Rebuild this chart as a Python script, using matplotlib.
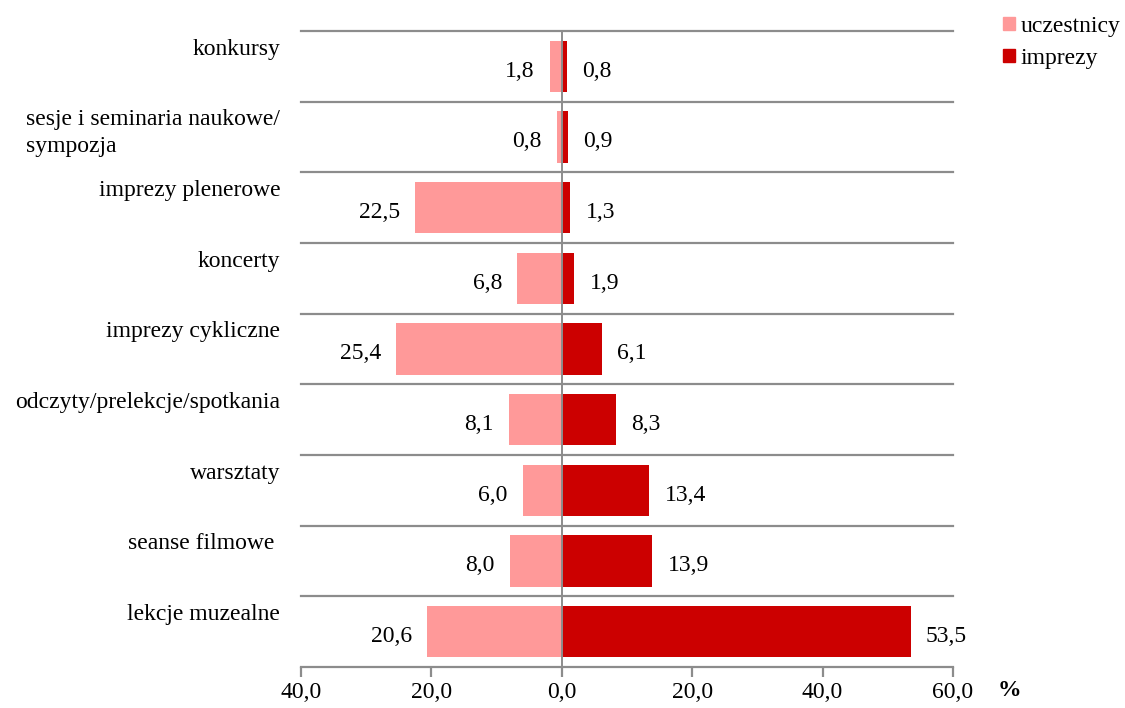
import matplotlib
matplotlib.use("Agg")
import matplotlib.pyplot as plt
from matplotlib.patches import Patch
from matplotlib import transforms

categories = ["konkursy", "sesje i seminaria naukowe/\nsympozja", "imprezy plenerowe",
              "koncerty", "imprezy cykliczne", "odczyty/prelekcje/spotkania",
              "warsztaty", "seanse filmowe ", "lekcje muzealne"]
uczestnicy = [1.8, 0.8, 22.5, 6.8, 25.4, 8.1, 6.0, 8.0, 20.6]
imprezy = [0.8, 0.9, 1.3, 1.9, 6.1, 8.3, 13.4, 13.9, 53.5]
xticks = [-40, -20, 0, 20, 40, 60]

plt.rcParams['font.family'] = ['Liberation Serif', 'DejaVu Serif']
FS = 17
PINK = "#FF9999"
RED = "#CC0000"
GRID = "#8C8C8C"

W, H = 1125, 708
fig = plt.figure(figsize=(W / 100, H / 100), dpi=100)
ax = fig.add_axes([301 / W, 1 - 667 / H, (953 - 301) / W, (667 - 31) / H])

n = len(categories)
ys = list(range(n))
bh = 0.73
ax.barh(ys, [-v for v in uczestnicy], height=bh, color=PINK, zorder=2)
ax.barh(ys, imprezy, height=bh, color=RED, zorder=2)

ax.set_xlim(-40, 60)
ax.set_ylim(n - 0.5, -0.5)

for b in range(n + 1):
    ax.axhline(b - 0.5, color=GRID, lw=1.6, zorder=1, clip_on=False)
ax.axvline(0, color=GRID, lw=1.4, zorder=3)

for s in ax.spines.values():
    s.set_visible(False)

ax.set_xticks(xticks)
ax.set_xticklabels([f"{abs(t):.1f}".replace(".", ",") for t in xticks], fontsize=FS)
ax.tick_params(axis='x', direction='out', length=7, width=1.6, color=GRID, pad=4)
ax.set_yticks([])

for y, u, im in zip(ys, uczestnicy, imprezy):
    ax.annotate(f"{u:.1f}".replace(".", ","), xy=(-u, y), xytext=(-11, -3.5),
                textcoords='offset points', ha='right', va='center', fontsize=FS)
    ax.annotate(f"{im:.1f}".replace(".", ","), xy=(im, y), xytext=(11, -3.5),
                textcoords='offset points', ha='left', va='center', fontsize=FS)

trans = transforms.blended_transform_factory(ax.transAxes, ax.transData)
for y, c in zip(ys, categories):
    ax.annotate(c, xy=(0, y - 0.5), xycoords=trans, xytext=(-15, -5.5),
                textcoords='offset points', ha='right', va='top', fontsize=FS,
                linespacing=1.35, multialignment='left')

ax.text(998 / W, 1 - 691 / H, "%", transform=fig.transFigure, fontsize=FS,
        fontweight='bold', ha='left', va='center')

handles = [Patch(color=PINK, label="uczestnicy"), Patch(color=RED, label="imprezy")]
fig.legend(handles=handles, loc='upper left', bbox_to_anchor=(1003 / W, 1 - 16 / H),
           frameon=False, fontsize=FS, handlelength=0.5, handleheight=0.5,
           handletextpad=0.25, labelspacing=0.45, borderpad=0, borderaxespad=0)

fig.savefig("out.png", dpi=100)
